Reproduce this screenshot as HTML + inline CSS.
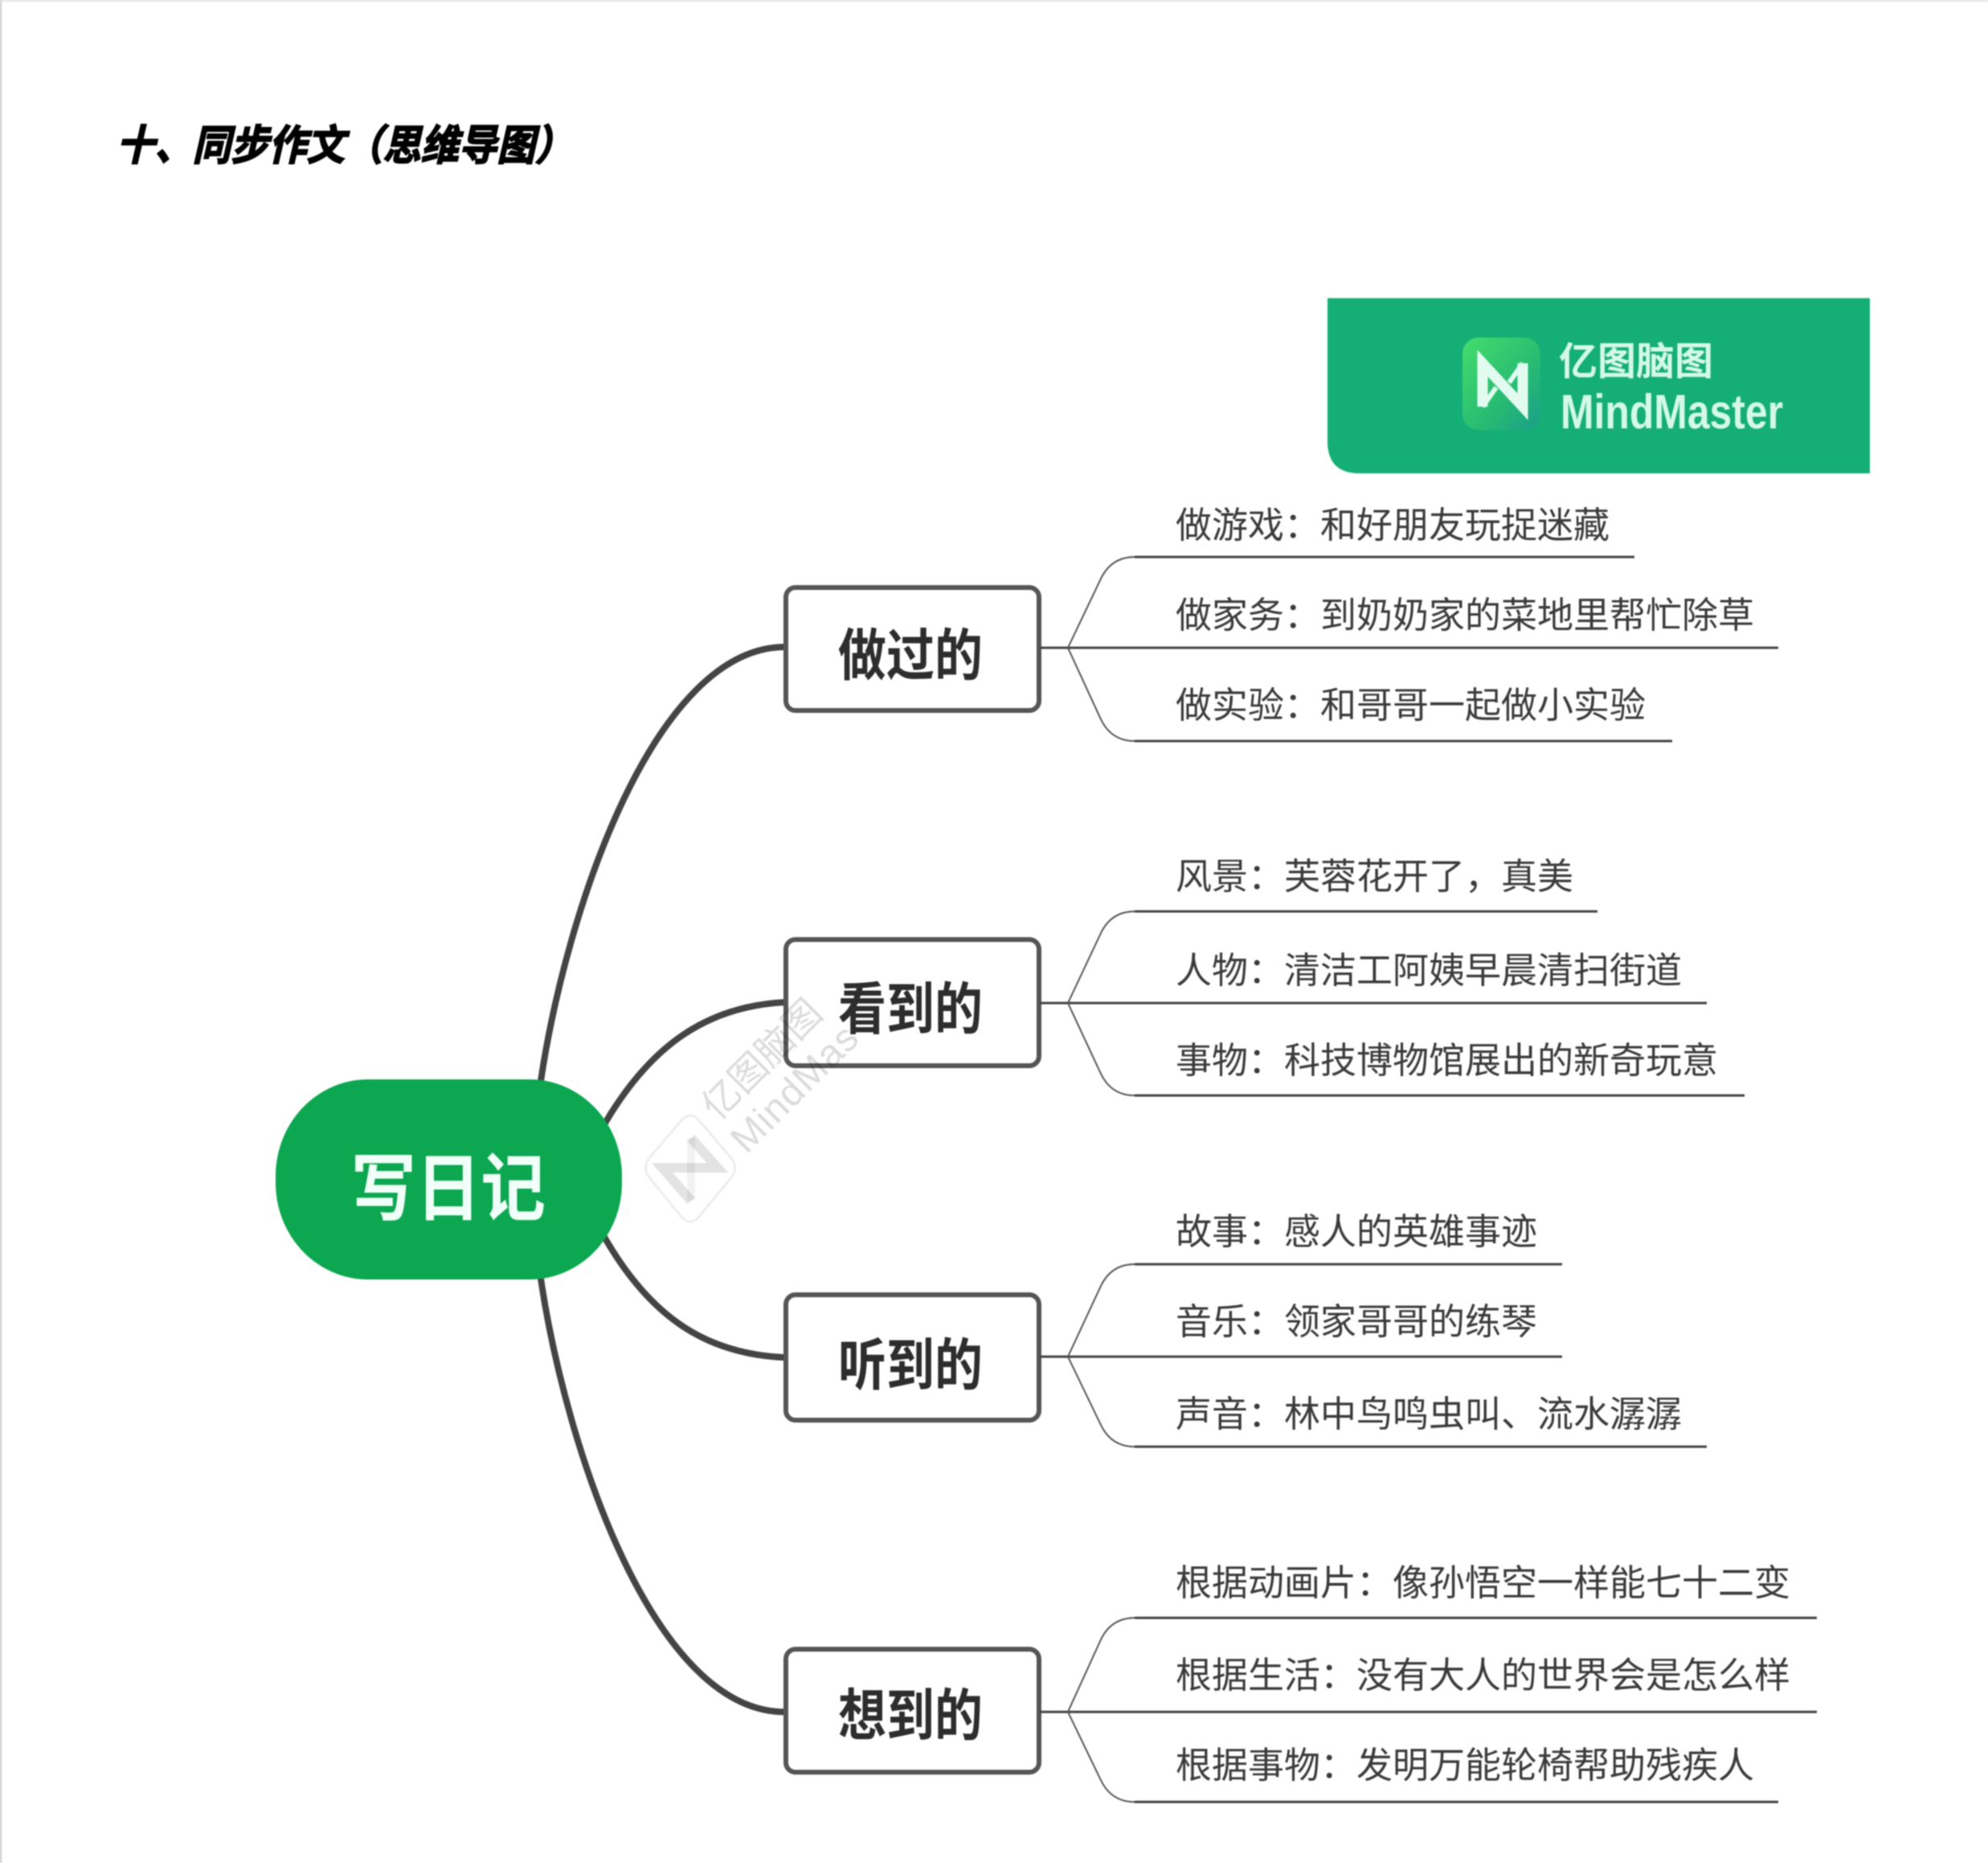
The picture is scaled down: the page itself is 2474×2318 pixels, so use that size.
<!DOCTYPE html>
<html lang="zh">
<head>
<meta charset="utf-8">
<title>同步作文(思维导图)</title>
<style>
html,body{margin:0;padding:0;background:#fff;width:2474px;height:2318px;overflow:hidden}
svg{display:block;filter:blur(.7px)}
text{font-family:"Liberation Sans","Noto Sans CJK SC",sans-serif}
.t{font-size:45px;fill:#3a3a3a;font-family:"Noto Sans CJK SC",sans-serif}
.n{font-size:70px;font-weight:700;fill:#2d2d2d;text-anchor:middle}
.b{fill:none;stroke:#444;stroke-width:8;stroke-linecap:round}
.s{fill:none;stroke:#444;stroke-width:3}
.c{fill:none;stroke:#555;stroke-width:2}
.box{fill:#fff;stroke:#555;stroke-width:6}
</style>
</head>
<body>
<svg width="2474" height="2318" viewBox="0 0 2474 2318" xmlns="http://www.w3.org/2000/svg">
<defs>
<linearGradient id="g" x1="0" y1="0" x2="1" y2="1"><stop offset="0" stop-color="#45dc6c"/><stop offset=".6" stop-color="#27bb72"/><stop offset="1" stop-color="#1a9e8a"/></linearGradient>
</defs>
<rect width="2474" height="2318" fill="#fff"/>
<rect x="0" y="0" width="2474" height="2" fill="#e2e2e2"/>
<rect x="0" y="0" width="2" height="2318" fill="#c8c8c8"/>

<text x="145" y="199" font-size="52" font-weight="700" font-style="italic" fill="#000" stroke="#000" stroke-width="1.8" textLength="568" lengthAdjust="spacingAndGlyphs" style="font-family:'Noto Sans CJK SC',sans-serif">十、同步作文&#xFF08;思维导图&#xFF09;</text>

<!-- banner -->
<path d="M1652 371H2327V589H1692Q1652 589 1652 549Z" fill="#14ae76"/>
<rect x="1820" y="420" width="97" height="115" rx="20" fill="url(#g)"/>
<polyline points="1845,506 1845,452 1895,506 1895,452" fill="none" stroke="#e2fbf1" stroke-width="13"/>
<path d="M1845 506L1862 482M1895 452L1878 476" fill="none" stroke="#e2fbf1" stroke-width="6"/>
<text x="1940" y="466" font-size="48" font-weight="700" fill="#d4f8ea" textLength="192" lengthAdjust="spacingAndGlyphs">亿图脑图</text>
<text x="1942" y="533" font-size="60" font-weight="700" fill="#d4f8ea" textLength="277" lengthAdjust="spacingAndGlyphs">MindMaster</text>

<!-- main branches -->
<path class="b" d="M673 1345C705 1130 815 805 977 805"/>
<path class="b" d="M752 1399C810 1300 880 1252 977 1247"/>
<path class="b" d="M752 1539C810 1640 880 1685 977 1689"/>
<path class="b" d="M673 1591C705 1806 815 2131 977 2130"/>

<!-- root -->
<rect x="343" y="1343" width="431" height="249" rx="115" ry="120" fill="#0ca750"/>
<text x="437" y="1511" font-size="92" font-weight="700" fill="#f0fff8" textLength="242" lengthAdjust="spacingAndGlyphs">写日记</text>

<!-- group 1 -->
<rect class="box" x="978" y="731" width="315" height="153" rx="12"/>
<text class="n" x="1133" y="840" textLength="180" lengthAdjust="spacingAndGlyphs">做过的</text>
<path class="s" d="M1294 806H2213"/>
<path class="c" d="M1329 806L1370 720Q1383 693 1412 693"/><path class="s" d="M1412 693H2034"/>
<path class="c" d="M1329 806L1370 895Q1383 922 1412 922"/><path class="s" d="M1412 922H2081"/>
<text class="t" x="1463" y="669">做游戏&#xFF1A;和好朋友玩捉迷藏</text>
<text class="t" x="1463" y="781">做家务&#xFF1A;到奶奶家的菜地里帮忙除草</text>
<text class="t" x="1463" y="893">做实验&#xFF1A;和哥哥一起做小实验</text>

<!-- group 2 -->
<rect class="box" x="978" y="1169" width="315" height="157" rx="12"/>
<text class="n" x="1133" y="1280" textLength="180" lengthAdjust="spacingAndGlyphs">看到的</text>
<path class="s" d="M1294 1248H2124"/>
<path class="c" d="M1329 1248L1370 1161Q1383 1134 1412 1134"/><path class="s" d="M1412 1134H1988"/>
<path class="c" d="M1329 1248L1370 1336Q1383 1363 1412 1363"/><path class="s" d="M1412 1363H2171"/>
<text class="t" x="1463" y="1106">风景&#xFF1A;芙蓉花开了&#xFF0C;真美</text>
<text class="t" x="1463" y="1223">人物&#xFF1A;清洁工阿姨早晨清扫街道</text>
<text class="t" x="1463" y="1335">事物&#xFF1A;科技博物馆展出的新奇玩意</text>

<!-- group 3 -->
<rect class="box" x="978" y="1611" width="315" height="156" rx="12"/>
<text class="n" x="1133" y="1723" textLength="180" lengthAdjust="spacingAndGlyphs">听到的</text>
<path class="s" d="M1294 1688H1944"/>
<path class="c" d="M1329 1688L1370 1600Q1383 1573 1412 1573"/><path class="s" d="M1412 1573H1944"/>
<path class="c" d="M1329 1688L1370 1773Q1383 1800 1412 1800"/><path class="s" d="M1412 1800H2124"/>
<text class="t" x="1463" y="1548">故事&#xFF1A;感人的英雄事迹</text>
<text class="t" x="1463" y="1660">音乐&#xFF1A;领家哥哥的练琴</text>
<text class="t" x="1463" y="1775">声音&#xFF1A;林中鸟鸣虫叫、流水潺潺</text>

<!-- group 4 -->
<rect class="box" x="978" y="2052" width="315" height="153" rx="12"/>
<text class="n" x="1133" y="2159" textLength="180" lengthAdjust="spacingAndGlyphs">想到的</text>
<path class="s" d="M1294 2130H2261"/>
<path class="c" d="M1329 2130L1370 2040Q1383 2013 1412 2013"/><path class="s" d="M1412 2013H2261"/>
<path class="c" d="M1329 2130L1370 2215Q1383 2242 1412 2242"/><path class="s" d="M1412 2242H2213"/>
<text class="t" x="1463" y="1985">根据动画片&#xFF1A;像孙悟空一样能七十二变</text>
<text class="t" x="1463" y="2100">根据生活&#xFF1A;没有大人的世界会是怎么样</text>
<text class="t" x="1463" y="2212">根据事物&#xFF1A;发明万能轮椅帮助残疾人</text>

<!-- watermark (over nodes) -->
<path d="M848 1394Q859 1382 870 1394L910 1441Q919 1453 910 1465L870 1514Q859 1526 848 1514L808 1465Q799 1453 808 1441Z" fill="none" stroke="#000" stroke-opacity=".07" stroke-width="3"/>
<polyline points="860,1416 893,1453 824,1453 860,1494" fill="none" stroke="#000" stroke-opacity=".11" stroke-width="12"/>
<path d="M860 1416V1494" fill="none" stroke="#000" stroke-opacity=".05" stroke-width="10"/>
<g fill="#000" fill-opacity=".14">
<text transform="translate(893,1396) rotate(-45)" font-size="47" textLength="188" lengthAdjust="spacingAndGlyphs">亿图脑图</text>
<text transform="translate(929,1437) rotate(-45)" font-size="48" textLength="201" lengthAdjust="spacing">MindMas</text>
</g>
</svg>
</body>
</html>
